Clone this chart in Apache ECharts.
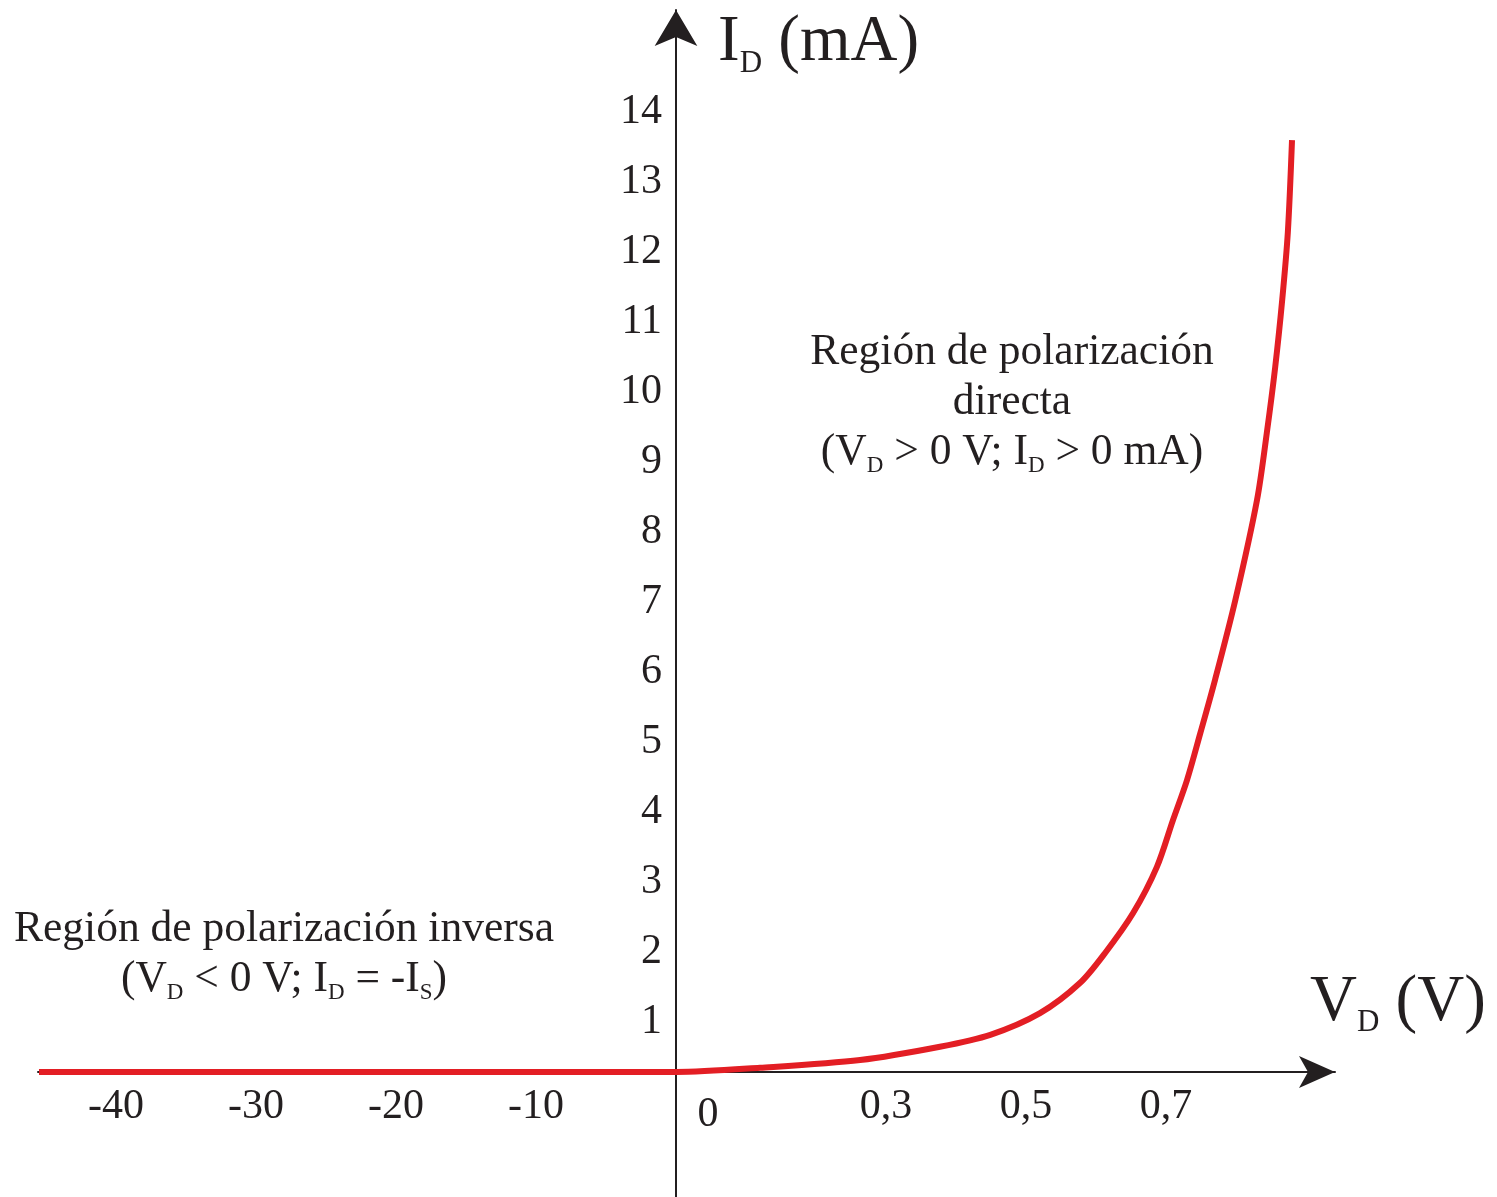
<!DOCTYPE html>
<html>
<head>
<meta charset="utf-8">
<title>Curva del diodo</title>
<script src="https://cdn.jsdelivr.net/npm/echarts@6/dist/echarts.min.js"></script>
<style>
    html, body { margin: 0; padding: 0; background: #fff; }
    #chart { width: 1497px; height: 1197px; }
</style>
</head>
<body>
<div id="chart"></div>
<script>
// curva I-V del diodo
const voltages = [-45.5, -40, -30, -20, -10, 0, 0.12, 0.263, 0.377, 0.449, 0.52, 0.577, 0.613, 0.653, 0.687, 0.71, 0.73, 0.749, 0.77, 0.799, 0.83, 0.844, 0.856, 0.866, 0.874, 0.88];
const currents = [0, 0, 0, 0, 0, 0, 0.06, 0.17, 0.36, 0.53, 0.84, 1.27, 1.70, 2.27, 2.93, 3.60, 4.17, 4.84, 5.60, 6.74, 8.17, 9.13, 10.07, 11.03, 11.99, 13.31];

const xTickVolts = [-40, -30, -20, -10, 0, 0.3, 0.5, 0.7];
const xTickLabels = ['-40', '-30', '-20', '-10', '0', '0,3', '0,5', '0,7'];
const yTicks = [1, 2, 3, 4, 5, 6, 7, 8, 9, 10, 11, 12, 13, 14];

// el eje X no es lineal: 10 V por división a la izquierda, 0,2 V a la derecha
const toAxis = v => (v < 0 ? v / 10 : v / 0.2);

const xPos = xTickVolts.map(toAxis);
const labelFor = {};
xPos.forEach((p, i) => { labelFor[p.toFixed(3)] = xTickLabels[i]; });

const seriesData = voltages.map((v, i) => [toAxis(v), currents[i]]);

const ink = '#231f20';
const serif = '"Liberation Serif", "Times New Roman", serif';

// rejilla: x de 38 a 1335 px, y de 10 a 1197 px; los ejes cruzan en (676, 1072)
const xMin = -4.557, xMax = 4.707;
const yMin = -1.786, yMax = 15.17;

const chart = echarts.init(document.getElementById('chart'));

chart.setOption({
    backgroundColor: '#fff',
    animation: false,
    grid: { left: 38, right: 162, top: 10, bottom: 0, outerBoundsMode: 'none', containLabel: false },
    xAxis: {
        type: 'value',
        min: xMin,
        max: xMax,
        position: 'bottom',
        offset: -125,
        splitLine: { show: false },
        axisTick: { show: false },
        axisLine: {
            onZero: false,
            symbol: ['none', 'arrow'],
            symbolSize: [24, 36],
            lineStyle: { color: ink, width: 2 }
        },
        axisLabel: {
            customValues: xPos,
            margin: 14,
            color: ink,
            fontFamily: serif,
            fontSize: 42,
            formatter: v => {
                const t = labelFor[Number(v).toFixed(3)] || '';
                return t === '0' ? '{z|0}' : t;
            },
            rich: {
                z: { fontFamily: serif, fontSize: 42, color: ink, padding: [8, 0, 0, 64] }
            }
        }
    },
    yAxis: {
        type: 'value',
        min: yMin,
        max: yMax,
        position: 'left',
        offset: -638,
        splitLine: { show: false },
        axisTick: { show: false },
        axisLine: {
            onZero: false,
            symbol: ['none', 'arrow'],
            symbolSize: [32, 36],
            lineStyle: { color: ink, width: 2 }
        },
        axisLabel: {
            customValues: yTicks,
            margin: 14,
            color: ink,
            fontFamily: serif,
            fontSize: 42,
            verticalAlign: 'top',
            lineHeight: 40
        }
    },
    series: [{
        type: 'line',
        data: seriesData,
        smooth: 0.3,
        showSymbol: false,
        lineStyle: { color: '#e31e24', width: 6 },
        z: 1
    }],
    graphic: [
        {
            type: 'text', left: 718, top: 10,
            style: {
                text: '{b|I}{s|D}{b| (mA)}',
                rich: {
                    b: { fontFamily: serif, fontSize: 65, fill: ink },
                    s: { fontFamily: serif, fontSize: 31, fill: ink, padding: [42, 0, 0, 0] }
                }
            }
        },
        {
            type: 'text', left: 1310, top: 970,
            style: {
                text: '{b|V}{s|D}{b| (V)}',
                rich: {
                    b: { fontFamily: serif, fontSize: 65, fill: ink },
                    s: { fontFamily: serif, fontSize: 31, fill: ink, padding: [40, 0, 0, 0] }
                }
            }
        },
        {
            type: 'text', x: 1012, y: 328,
            style: {
                text: '{n|Región de polarización}\n{n|directa}\n{n|(V}{s|D}{n| > 0 V; I}{s|D}{n| > 0 mA)}',
                align: 'center',
                rich: {
                    n: { fontFamily: serif, fontSize: 43.5, fill: ink, lineHeight: 50 },
                    s: { fontFamily: serif, fontSize: 23, fill: ink, padding: [26, 0, 0, 0], lineHeight: 50 }
                }
            }
        },
        {
            type: 'text', x: 284, y: 905,
            style: {
                text: '{n|Región de polarización inversa}\n{n|(V}{s|D}{n| < 0 V; I}{s|D}{n| = -I}{s|S}{n|)}',
                align: 'center',
                rich: {
                    n: { fontFamily: serif, fontSize: 43.5, fill: ink, lineHeight: 50 },
                    s: { fontFamily: serif, fontSize: 23, fill: ink, padding: [26, 0, 0, 0], lineHeight: 50 }
                }
            }
        }
    ]
});
</script>
</body>
</html>
